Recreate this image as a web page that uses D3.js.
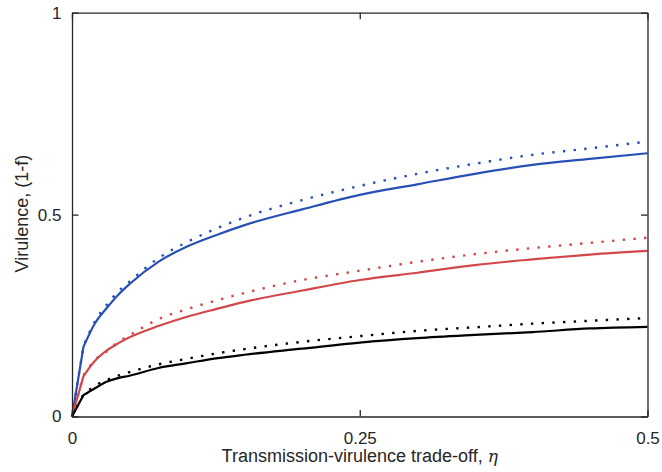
<!DOCTYPE html>
<html>
<head>
<meta charset="utf-8">
<script src="https://cdn.jsdelivr.net/npm/d3@7"></script>
<style>
  html, body { margin: 0; padding: 0; background: #fff; }
  svg { display: block; }
  text { font-family: "Liberation Sans", Arial, Helvetica, sans-serif; fill: #262626; }
</style>
</head>
<body>
<svg id="chart" width="662" height="472"></svg>
<script>
// Trade-off parameter eta (x) and resulting virulence (1-f) for three scenarios
const eta = [0, 0.01, 0.02, 0.03, 0.04, 0.05, 0.075, 0.1, 0.125, 0.15, 0.2, 0.25, 0.3, 0.35, 0.4, 0.45, 0.5];

// solid = simulated, dotted = approximation
const blueSolid  = [0, 0.173, 0.231, 0.268, 0.301, 0.328, 0.383, 0.421, 0.449, 0.474, 0.513, 0.549, 0.575, 0.601, 0.623, 0.638, 0.652];
const blueDotted = [0, 0.175, 0.236, 0.276, 0.309, 0.334, 0.392, 0.432, 0.465, 0.493, 0.536, 0.571, 0.601, 0.626, 0.648, 0.664, 0.681];
const redSolid   = [0, 0.100, 0.138, 0.163, 0.181, 0.196, 0.224, 0.247, 0.266, 0.284, 0.312, 0.338, 0.356, 0.375, 0.389, 0.401, 0.410];
const redDotted  = [0, 0.102, 0.140, 0.161, 0.184, 0.201, 0.241, 0.266, 0.287, 0.306, 0.338, 0.361, 0.383, 0.402, 0.417, 0.430, 0.443];
const blackSolid = [0, 0.053, 0.070, 0.086, 0.095, 0.101, 0.120, 0.132, 0.144, 0.153, 0.168, 0.183, 0.194, 0.202, 0.209, 0.218, 0.222];
const blackDotted= [0, 0.055, 0.076, 0.090, 0.101, 0.110, 0.129, 0.143, 0.156, 0.167, 0.185, 0.199, 0.212, 0.221, 0.230, 0.237, 0.244];

const xTicks = [0, 0.25, 0.5];
const xTickLabels = ["0", "0.25", "0.5"];
const yTicks = [0, 0.5, 1];
const yTickLabels = ["0", "0.5", "1"];

const series = [
  { values: blueDotted,  color: "#2850b4", dotted: true },
  { values: redDotted,   color: "#d2484a", dotted: true },
  { values: blackDotted, color: "#000000", dotted: true },
  { values: blueSolid,   color: "#2850b4", dotted: false },
  { values: redSolid,    color: "#d2484a", dotted: false },
  { values: blackSolid,  color: "#000000", dotted: false }
];

const svg = d3.select("#chart");
const plotLeft = 72, plotRight = 647.5, plotTop = 12.7, plotBottom = 416.5;

const x = d3.scaleLinear().domain([0, 0.5]).range([plotLeft, plotRight]);
const y = d3.scaleLinear().domain([0, 1]).range([plotBottom, plotTop]);

// Straight rise from the origin to the first sample, smooth curve afterwards
const smooth = d3.line()
  .x(d => x(d[0]))
  .y(d => y(d[1]))
  .curve(d3.curveMonotoneX);

function seriesPath(values) {
  const pts = values.map((v, i) => [eta[i], v]);
  const rest = smooth(pts.slice(1));
  return `M${x(pts[0][0])},${y(pts[0][1])}L` + rest.slice(1);
}

const plot = svg.append("g");
series.forEach(s => {
  plot.append("path")
    .attr("d", seriesPath(s.values))
    .attr("fill", "none")
    .attr("stroke", s.color)
    .attr("stroke-width", s.dotted ? 2.4 : 2.2)
    .attr("stroke-dasharray", s.dotted ? "2.4,8.3" : null)
    .attr("stroke-linejoin", "round");
});

// Axes box with inward ticks on all four sides
const axisColor = "#262626";
const tickLen = 6.5;
const fontSize = 17;

const axB = svg.append("g").attr("transform", `translate(0,${plotBottom})`)
  .call(d3.axisBottom(x).tickValues(xTicks).tickFormat((d, i) => xTickLabels[i])
    .tickSizeInner(-tickLen).tickSizeOuter(0).tickPadding(15));
const axT = svg.append("g").attr("transform", `translate(0,${plotTop})`)
  .call(d3.axisTop(x).tickValues(xTicks).tickFormat("")
    .tickSizeInner(-tickLen).tickSizeOuter(0));
const axL = svg.append("g").attr("transform", `translate(${plotLeft},0)`)
  .call(d3.axisLeft(y).tickValues(yTicks).tickFormat((d, i) => yTickLabels[i])
    .tickSizeInner(-tickLen).tickSizeOuter(0).tickPadding(10.5));
const axR = svg.append("g").attr("transform", `translate(${plotRight},0)`)
  .call(d3.axisRight(y).tickValues(yTicks).tickFormat("")
    .tickSizeInner(-tickLen).tickSizeOuter(0));

[axB, axT, axL, axR].forEach(g => {
  g.select(".domain").attr("stroke", axisColor).attr("stroke-width", 1.3);
  g.selectAll(".tick line").attr("stroke", axisColor).attr("stroke-width", 1.3);
  g.selectAll(".tick text")
    .attr("fill", axisColor)
    .style("font-family", "'Liberation Sans', Arial, sans-serif")
    .style("font-size", fontSize + "px");
});

// Axis titles
svg.append("text")
  .attr("x", x(0.25)).attr("y", 462)
  .attr("text-anchor", "middle")
  .style("font-size", "18px")
  .text("Transmission-virulence trade-off, ")
  .append("tspan")
  .style("font-family", "'DejaVu Serif', 'Liberation Serif', serif")
  .style("font-style", "italic")
  .style("font-size", "17px")
  .text("η");

svg.append("text")
  .attr("transform", `translate(28,${y(0.5) - 1}) rotate(-90)`)
  .attr("text-anchor", "middle")
  .style("font-size", "18px")
  .text("Virulence, (1-f)");
</script>
</body>
</html>
